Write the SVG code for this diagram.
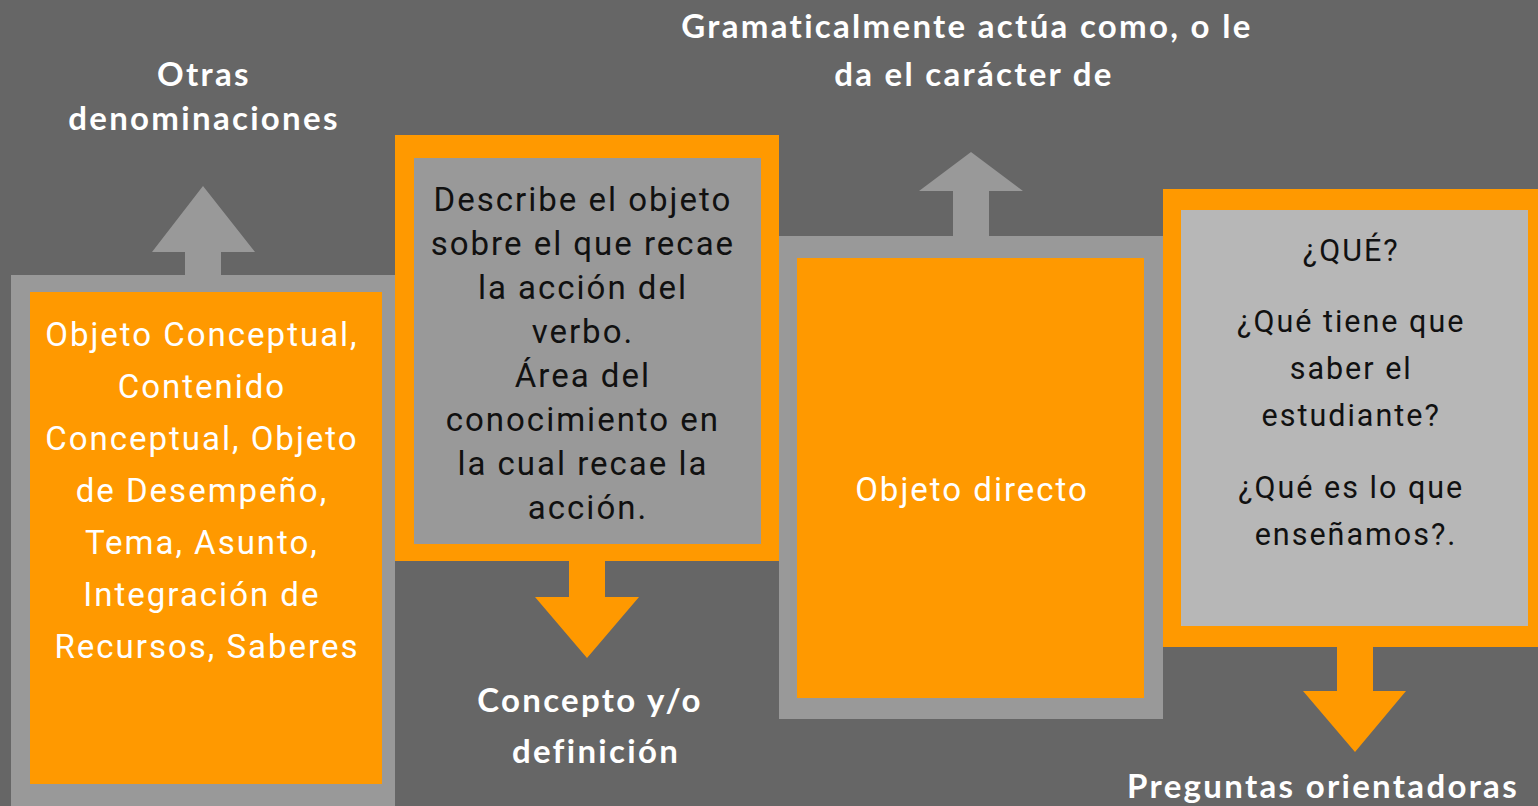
<svg xmlns="http://www.w3.org/2000/svg" width="1538" height="806" viewBox="0 0 1538 806">
<style>
.bg{fill:#666666}
.g{fill:#999999}
.o{fill:#FF9900}
.lg{fill:#B7B7B7}
.t{font-family:Roboto,"Liberation Sans",sans-serif;font-size:33px;letter-spacing:2px;text-anchor:middle}
.s{font-size:30.5px}
.w{fill:#ffffff}
.k{fill:#111111}
.h{font-family:Lato,"Liberation Sans",sans-serif;font-weight:bold;font-size:33px;letter-spacing:2.3px;fill:#ffffff;text-anchor:middle}
</style>
<rect class="bg" x="0" y="0" width="1538" height="806"/>
<g id="connectors">
<polygon class="g" points="185,276 185,252 152,252 203,186 255,252 221,252 221,276"/>
<polygon class="o" points="569,560 569,597 535,597 587,658 639,597 605,597 605,560"/>
<polygon class="g" points="953,237 953,191 919,191 971,152 1023,191 989,191 989,237"/>
<polygon class="o" points="1337,646 1337,691 1303,691 1355,752 1406,691 1373,691 1373,646"/>
</g>
<g id="node-otras">
<rect class="g" x="11" y="275" width="384" height="540"/>
<rect class="o" x="30" y="292" width="352" height="492"/>
<text class="t w">
<tspan x="207" y="346">Objeto Conceptual,</tspan>
<tspan x="207" y="398">Contenido</tspan>
<tspan x="207" y="450">Conceptual, Objeto</tspan>
<tspan x="207" y="502">de Desempeño,</tspan>
<tspan x="207" y="554">Tema, Asunto,</tspan>
<tspan x="207" y="606">Integración de</tspan>
<tspan x="207" y="658">Recursos, Saberes</tspan>
</text>
</g>
<g id="node-concepto">
<rect class="o" x="395" y="135" width="384" height="426"/>
<rect class="g" x="414" y="158" width="347" height="386"/>
<text class="t k">
<tspan x="588" y="211">Describe el objeto</tspan>
<tspan x="588" y="255">sobre el que recae</tspan>
<tspan x="588" y="299">la acción del</tspan>
<tspan x="588" y="343">verbo.</tspan>
<tspan x="588" y="387">Área del</tspan>
<tspan x="588" y="431">conocimiento en</tspan>
<tspan x="588" y="475">la cual recae la</tspan>
<tspan x="588" y="519">acción.</tspan>
</text>
</g>
<g id="node-objeto">
<rect class="g" x="779" y="236" width="384" height="483"/>
<rect class="o" x="797" y="258" width="347" height="440"/>
<text class="t w" x="972" y="501">Objeto directo</text>
</g>
<g id="node-preguntas">
<rect class="o" x="1163" y="189" width="380" height="458"/>
<rect class="lg" x="1181" y="210" width="347" height="416"/>
<text class="t s k">
<tspan x="1356" y="261">¿QUÉ?</tspan>
<tspan x="1356" y="332">¿Qué tiene que</tspan>
<tspan x="1356" y="379">saber el</tspan>
<tspan x="1356" y="426">estudiante?</tspan>
<tspan x="1356" y="498">¿Qué es lo que</tspan>
<tspan x="1356" y="545">enseñamos?.</tspan>
</text>
</g>
<g id="labels">
<text class="h"><tspan x="204" y="86">Otras</tspan><tspan x="204" y="130">denominaciones</tspan></text>
<text class="h"><tspan x="967" y="38">Gramaticalmente actúa como, o le</tspan><tspan x="974" y="86">da el carácter de</tspan></text>
<text class="h"><tspan x="590" y="712">Concepto y/o</tspan><tspan x="596" y="763">definición</tspan></text>
<text class="h" x="1323" y="798">Preguntas orientadoras</text>
</g>
</svg>
